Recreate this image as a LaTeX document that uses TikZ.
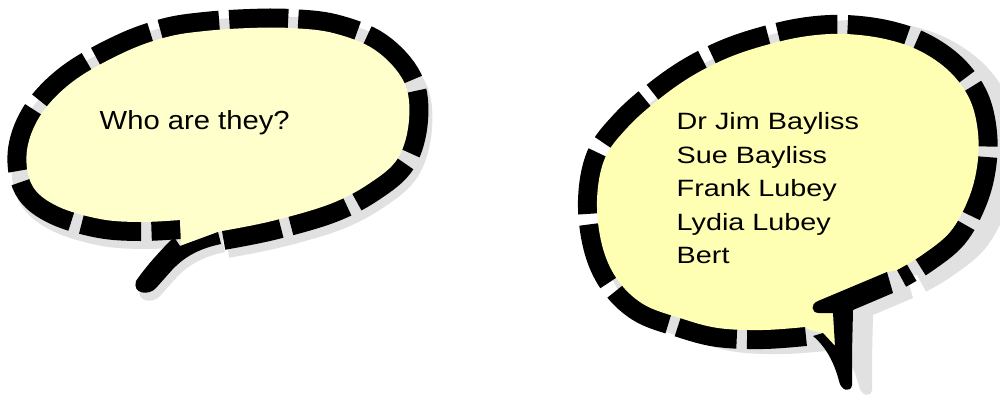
\documentclass[tikz,border=0pt]{standalone}
\usepackage{fontspec}
\newfontfamily\lfont[FakeStretch=1.115]{Liberation Sans}
\newfontfamily\rfont[FakeStretch=1.22]{Liberation Sans}
\definecolor{lyellow}{HTML}{FFFFCC}
\definecolor{ryellow}{HTML}{FFFFB3}
\definecolor{shadowgray}{HTML}{E1E1E1}
\tikzset{
  dashline/.style={draw=black, line width=38pt, dash pattern=on 58pt off 10pt},
  shadline/.style={draw=shadowgray, line width=38pt},
  txt/.style={inner sep=0pt, anchor=base west, text=black}
}
% left bubble
\newcommand\LEll[1]{\path[#1] plot[smooth,tension=0.6] coordinates {(222,231) (272,221) (330,204) (370,183) (398,158) (409,120) (404,82) (375,50) (333,33) (290,28) (250,28) (205,31) (167,37) (125,52) (75,80) (42,113) (27,150) (32,185) (57,206) (100,219) (140,222) (180,220)};}
\newcommand\LShape[1]{\path[#1] plot[smooth,tension=0.6] coordinates {(222,231) (272,221) (330,204) (370,183) (398,158) (409,120) (404,82) (375,50) (333,33) (290,28) (250,28) (205,31) (167,37) (125,52) (75,80) (42,113) (27,150) (32,185) (57,206) (100,219) (140,222) (180,220)} -- (181,246) -- (218,232) -- cycle;}
\newcommand\LTail[1]{\path[#1] (218,232) -- (221,244) .. controls (202,248) and (186,255) .. (172,270) -- (156,288) .. controls (149,296) and (132,294) .. (136,281) .. controls (147,265) and (161,250) .. (174,237) -- (180,246) -- cycle;}
% right bubble
\newcommand\REll[1]{\path[#1] plot[smooth,tension=0.6] coordinates {(805,327) (763,330) (718,328) (680,318) (643,304) (617,279) (602,245) (597,200) (605,158) (628,127) (658,100) (692,76) (730,57) (770,44) (808,36) (845,34) (885,39) (920,51) (950,72) (970,100) (978,133) (977,167) (968,200) (950,232) (922,255) (897,270)};}
\newcommand\RShape[1]{\path[#1] plot[smooth,tension=0.6] coordinates {(805,327) (763,330) (718,328) (680,318) (643,304) (617,279) (602,245) (597,200) (605,158) (628,127) (658,100) (692,76) (730,57) (770,44) (808,36) (845,34) (885,39) (920,51) (950,72) (970,100) (978,133) (977,167) (968,200) (950,232) (922,255) (897,270)} -- (887,272) -- (818,301) -- (833,313) -- (835,346) -- (823,333) -- (810,330) -- cycle;}
\newcommand\RTail[1]{\path[#1] (887,272) -- (818,301) .. controls (810,304) and (811,313) .. (819,313) -- (833,313) -- (835,346) -- (823,333) -- (813,336) .. controls (826,347) and (834,362) .. (839,381) .. controls (841,391) and (851,393) .. (852,385) -- (852,353) -- (853,310) -- (893,293) -- cycle;}
\begin{document}
\begin{tikzpicture}[x=1pt,y=-1pt]
\useasboundingbox (0,0) rectangle (1000,396);
% shadows
\begin{scope}[shift={(4,8)}]
  \LShape{fill=shadowgray}
  \LEll{shadline}
  \LTail{fill=shadowgray}
\end{scope}
\begin{scope}[shift={(20,5)}]
  \RShape{fill=shadowgray}
  \REll{shadline}
  \RTail{fill=shadowgray}
\end{scope}
% left bubble
\LEll{dashline}
\LShape{fill=lyellow}
\LTail{fill=black}
% right bubble
\REll{dashline}
\RShape{fill=ryellow}
\RTail{fill=black}
% texts
\node[txt, font=\lfont\fontsize{26.2pt}{30pt}\selectfont] (q) at (99.5,129.3) {Who are they?};
\node[txt, font=\rfont\fontsize{23.6pt}{30pt}\selectfont] (n1) at (676.5,129.3) {Dr Jim Bayliss};
\node[txt, font=\rfont\fontsize{23.6pt}{30pt}\selectfont] (n2) at (676.5,163.0) {Sue Bayliss};
\node[txt, font=\rfont\fontsize{23.6pt}{30pt}\selectfont] (n3) at (676.5,196.8) {Frank Lubey};
\node[txt, font=\rfont\fontsize{23.6pt}{30pt}\selectfont] (n4) at (676.5,230.5) {Lydia Lubey};
\node[txt, font=\rfont\fontsize{23.6pt}{30pt}\selectfont] (n5) at (676.5,263.5) {Bert};
\end{tikzpicture}
\end{document}
